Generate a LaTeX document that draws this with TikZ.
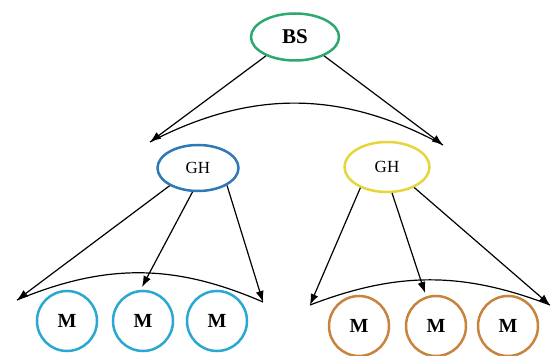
\documentclass[tikz,border=0pt]{standalone}
\usepackage{fontspec}
\setmainfont{Liberation Serif}
\usetikzlibrary{arrows.meta,shapes.geometric}

\definecolor{bsgreen}{RGB}{44,168,112}
\definecolor{ghblue}{RGB}{46,120,184}
\definecolor{ghyellow}{RGB}{230,214,60}
\definecolor{mcyan}{RGB}{42,168,210}
\definecolor{morange}{RGB}{200,132,62}

\begin{document}
\begin{tikzpicture}[
  x=1pt, y=1pt,
  station/.style={ellipse, draw, line width=2.5pt, fill=white, inner sep=0pt},
  mobile/.style={circle, draw, line width=2.5pt, fill=white, minimum size=60pt, inner sep=0pt, font=\fontsize{20}{22}\selectfont\bfseries},
  arrow/.style={-{Latex[length=11pt,width=8pt]}, line width=1.2pt},
  link/.style={line width=1.2pt}
]
\useasboundingbox (0,0) rectangle (552,356);

%% Top level
\node[station, draw=bsgreen, minimum width=88pt, minimum height=47pt, font=\fontsize{21}{23}\selectfont\bfseries] (bs) at (295,319) {BS};

%% Gateway heads
\node[station, draw=ghblue, minimum width=81pt, minimum height=46pt, font=\fontsize{17}{19}\selectfont] (ghL) at (198,188) {GH};
\node[station, draw=ghyellow, minimum width=85pt, minimum height=50pt, font=\fontsize{17}{19}\selectfont] (ghR) at (387,189) {GH};

%% Mobiles
\node[mobile, draw=mcyan] (mL1) at (67,35) {M};
\node[mobile, draw=mcyan] (mL2) at (143,35) {M};
\node[mobile, draw=mcyan] (mL3) at (217,35) {M};
\node[mobile, draw=morange] (mR1) at (359,30) {M};
\node[mobile, draw=morange] (mR2) at (436,30) {M};
\node[mobile, draw=morange] (mR3) at (508,30) {M};

%% Arrow ends
\coordinate (bsA) at (150,214);
\coordinate (bsB) at (443,211);
\coordinate (ghLa) at (17,56);
\coordinate (ghLb) at (142,69);
\coordinate (ghLc) at (263,54);
\coordinate (ghRa) at (310,51);
\coordinate (ghRb) at (425,63);
\coordinate (ghRc) at (550,51);

%% Arrows from BS
\draw[arrow] (bs.-147) -- (bsA);
\draw[arrow] (bs.-33) -- (bsB);
\draw[link] (bsA) to[bend left=28] (bsB);

%% Arrows from left GH
\draw[arrow] (ghL.-148) -- (ghLa);
\draw[arrow] (ghL.-103) -- (ghLb);
\draw[arrow] (ghL.-31) -- (ghLc);
\draw[link] (ghLa) to[bend left=23] (ghLc);

%% Arrows from right GH
\draw[arrow] (ghR.-142) -- (ghRa);
\draw[arrow] (ghR.-79) -- (ghRb);
\draw[arrow] (ghR.-37) -- (ghRc);
\draw[link] (ghRa) to[bend left=21] (ghRc);
\end{tikzpicture}
\end{document}
